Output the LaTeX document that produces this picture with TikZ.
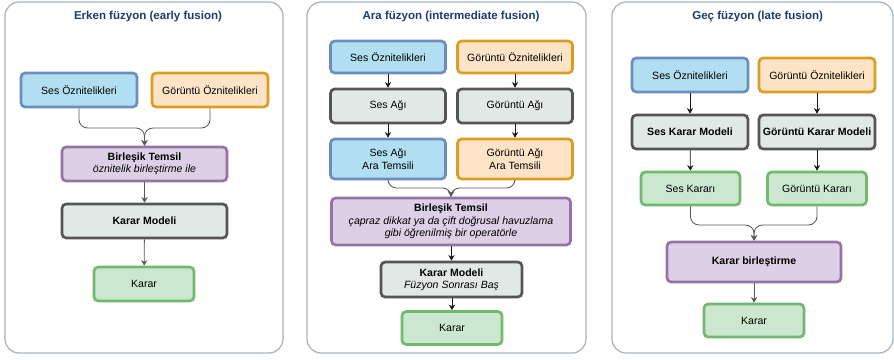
\documentclass[tikz,border=0pt]{standalone}
\usepackage{fontspec}
\setmainfont{Liberation Sans}
\usetikzlibrary{arrows.meta}

\definecolor{sesfill}{HTML}{B1DFF1}
\definecolor{sesdraw}{HTML}{6C8EBF}
\definecolor{gorfill}{HTML}{FDE4C6}
\definecolor{gordraw}{HTML}{DB9E22}
\definecolor{netfill}{HTML}{E2E8E5}
\definecolor{netdraw}{HTML}{555555}
\definecolor{fusefill}{HTML}{DDD0E6}
\definecolor{fusedraw}{HTML}{9673A6}
\definecolor{kararfill}{HTML}{CBE7D0}
\definecolor{karardraw}{HTML}{74B870}
\definecolor{paneldraw}{HTML}{AAB4C0}
\definecolor{titlecol}{HTML}{1D3C6E}

\begin{document}
\begin{tikzpicture}[
    % Panel style
    panel/.style={
        rectangle,
        rounded corners=10pt,
        draw=paneldraw,
        line width=0.9pt,
        fill=white,
        minimum height=8.775cm
    },
    % Title style
    title/.style={
        font=\fontsize{8.2}{10}\selectfont\bfseries,
        text=titlecol
    },
    % Common box style
    box/.style={
        rectangle,
        rounded corners=3pt,
        line width=1.9pt,
        inner sep=0pt,
        align=center,
        minimum width=2.9cm,
        minimum height=0.85cm,
        font=\fontsize{7.5}{8.8}\selectfont
    },
    sesbox/.style={box, fill=sesfill, draw=sesdraw},
    gorbox/.style={box, fill=gorfill, draw=gordraw},
    netbox/.style={box, fill=netfill, draw=netdraw},
    fusebox/.style={box, fill=fusefill, draw=fusedraw},
    kararbox/.style={box, fill=kararfill, draw=karardraw, minimum width=2.5cm},
    % Arrow styles
    arrow/.style={
        -{Stealth[length=4pt, width=4.5pt]},
        line width=0.6pt,
        black!90
    },
    grayarrow/.style={arrow, black!65},
    merge/.style={grayarrow, rounded corners=6pt}
]

\useasboundingbox (0, 0) rectangle (22.35, -8.975);

% === Panel 1: Early fusion ===
\node[panel, minimum width=6.95cm] (early) at (3.6, -4.4375) {};
\node[title] (earlyt) at (3.7, -0.425) {Erken füzyon (early fusion)};

\node[sesbox] (ses1) at (1.975, -2.25) {Ses Öznitelikleri};
\node[gorbox] (gor1) at (5.25, -2.25) {Görüntü Öznitelikleri};
\node[fusebox, minimum width=4.125cm] (birl1) at (3.6125, -4.1)
    {\textbf{Birleşik Temsil}\\\textit{öznitelik birleştirme ile}};
\node[netbox, minimum width=4.125cm] (model1) at (3.6125, -5.525)
    {\textbf{Karar Modeli}};
\node[kararbox] (karar1) at (3.6, -7.1) {Karar};

\coordinate (join1) at (3.6125, -3.2);
\draw[merge] (ses1.south) |- (join1) -- (birl1.north);
\draw[merge] (gor1.south) |- (join1) -- (birl1.north);
\draw[grayarrow] (birl1) -- (model1);
\draw[grayarrow] (model1) -- (karar1);

% === Panel 2: Intermediate fusion ===
\node[panel, minimum width=6.975cm] (inter) at (11.1625, -4.4375) {};
\node[title] (intert) at (11.275, -0.425) {Ara füzyon (intermediate fusion)};

\node[sesbox, minimum width=2.875cm, minimum height=0.8cm] (ses2) at (9.7, -1.425) {Ses Öznitelikleri};
\node[gorbox, minimum width=2.875cm, minimum height=0.8cm] (gor2) at (12.875, -1.425) {Görüntü Öznitelikleri};
\node[netbox, minimum width=2.875cm] (sesnet2) at (9.7, -2.65) {Ses Ağı};
\node[netbox, minimum width=2.875cm] (gornet2) at (12.875, -2.65) {Görüntü Ağı};
\node[sesbox, minimum width=2.875cm, minimum height=1cm] (sesara2) at (9.7, -3.975)
    {Ses Ağı\\Ara Temsili};
\node[gorbox, minimum width=2.875cm, minimum height=1cm] (gorara2) at (12.875, -3.975)
    {Görüntü Ağı\\Ara Temsili};
\node[fusebox, minimum width=5.975cm, minimum height=1.175cm] (birl2) at (11.275, -5.5375)
    {\textbf{Birleşik Temsil}\\\textit{çapraz dikkat ya da çift doğrusal havuzlama}\\\textit{gibi öğrenilmiş bir operatörle}};
\node[netbox, minimum width=3.525cm, minimum height=0.875cm] (model2) at (11.2875, -6.9875)
    {\textbf{Karar Modeli}\\\textit{Füzyon Sonrası Baş}};
\node[kararbox, minimum height=0.825cm] (karar2) at (11.3, -8.2) {Karar};

\draw[arrow] (ses2) -- (sesnet2);
\draw[arrow] (gor2) -- (gornet2);
\draw[arrow] (sesnet2) -- (sesara2);
\draw[arrow] (gornet2) -- (gorara2);
\coordinate (join2) at (11.275, -4.7);
\draw[merge] (sesara2.south) |- (join2) -- (birl2.north);
\draw[merge] (gorara2.south) |- (join2) -- (birl2.north);
\draw[arrow] (birl2.south -| model2.north) -- (model2.north);
\draw[arrow] (model2.south -| karar2.north) -- (karar2.north);

% === Panel 3: Late fusion ===
\node[panel, minimum width=7.025cm] (late) at (18.8125, -4.4375) {};
\node[title] (latet) at (18.94, -0.425) {Geç füzyon (late fusion)};

\node[sesbox] (ses3) at (17.25, -1.875) {Ses Öznitelikleri};
\node[gorbox] (gor3) at (20.425, -1.875) {Görüntü Öznitelikleri};
\node[netbox] (sesmod3) at (17.25, -3.3) {\textbf{Ses Karar Modeli}};
\node[netbox] (gormod3) at (20.425, -3.3) {\textbf{Görüntü Karar Modeli}};
\node[kararbox, minimum width=2.475cm, minimum height=0.825cm] (seskarar3) at (17.2625, -4.7125) {Ses Kararı};
\node[kararbox, minimum width=2.475cm, minimum height=0.825cm] (gorkarar3) at (20.425, -4.7125) {Görüntü Kararı};
\node[fusebox, minimum width=4.35cm, minimum height=1cm] (fuse3) at (18.85, -6.55)
    {\textbf{Karar birleştirme}};
\node[kararbox, minimum height=0.825cm] (karar3) at (18.85, -8.0125) {Karar};

\draw[arrow] (ses3) -- (sesmod3);
\draw[arrow] (gor3) -- (gormod3);
\draw[arrow] (sesmod3) -- (seskarar3);
\draw[arrow] (gormod3) -- (gorkarar3);
\coordinate (join3) at (18.85, -5.625);
\draw[merge] (seskarar3.south) |- (join3) -- (fuse3.north);
\draw[merge] (gorkarar3.south) |- (join3) -- (fuse3.north);
\draw[grayarrow] (fuse3) -- (karar3);

\end{tikzpicture}
\end{document}
